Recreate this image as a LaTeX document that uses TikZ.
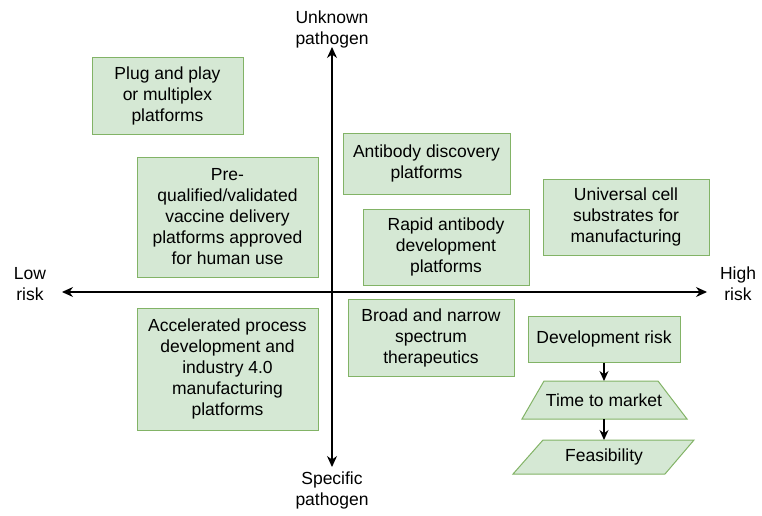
\documentclass[tikz,border=0pt]{standalone}
\usepackage{fontspec}
\setmainfont{Liberation Sans}
\usetikzlibrary{arrows.meta}
\definecolor{boxfill}{HTML}{D5E8D4}
\definecolor{boxdraw}{HTML}{82B366}
\tikzset{
  gbox/.style={draw=boxdraw, fill=boxfill, line width=1pt, rectangle, inner sep=0pt, align=center,
    font=\fontsize{17.5}{21}\selectfont},
  lbl/.style={align=center, inner sep=0pt, font=\fontsize{17.5}{21}\selectfont},
  gshape/.style={draw=boxdraw, fill=boxfill, line width=1pt},
  axis/.style={line width=1.2pt, -{Stealth[length=11pt,width=10pt]}},
  flow/.style={line width=1.2pt, -{Stealth[length=10pt,width=9pt]}},
}
\begin{document}
\begin{tikzpicture}[x=1pt,y=-1pt]
\useasboundingbox (0,0) rectangle (762,516);
% axes
\coordinate (o) at (332,292);
\coordinate (top) at (332,47);
\coordinate (bot) at (332,467);
\coordinate (lft) at (62,292);
\coordinate (rgt) at (707,292);
\draw[axis] (o) -- (top);
\draw[axis] (o) -- (bot);
\draw[axis] (o) -- (lft);
\draw[axis] (o) -- (rgt);
\node[lbl] (unk) at (332,29) {Unknown\\pathogen};
\node[lbl] (spe) at (332,490) {Specific\\pathogen};
\node[lbl] (low) at (30,284) {Low\\risk};
\node[lbl] (high) at (738,284) {High\\risk};
% boxes
\node[gbox, minimum width=151, minimum height=76] (plug) at (167.5,96) {Plug and play\\or multiplex\\platforms};
\node[gbox, minimum width=181, minimum height=120] (preq) at (227.5,217) {Pre-\\qualified/validated\\vaccine delivery\\platforms approved\\for human use};
\node[gbox, minimum width=167, minimum height=61] (abd) at (426.5,163.5) {Antibody discovery\\platforms};
\node[gbox, minimum width=166, minimum height=76] (rapid) at (446,247) {Rapid antibody\\development\\platforms};
\node[gbox, minimum width=166, minimum height=76] (univ) at (626,217) {Universal cell\\substrates for\\manufacturing};
\node[gbox, minimum width=181, minimum height=122] (accel) at (227.5,369) {Accelerated process\\development and\\industry 4.0\\manufacturing\\platforms};
\node[gbox, minimum width=166, minimum height=77] (broad) at (431,337.5) {Broad and narrow\\spectrum\\therapeutics};
\node[gbox, minimum width=152, minimum height=46] (dev) at (604,339) {Development risk};
% trapezoid and parallelogram
\draw[gshape] (544,381) -- (658,381) -- (687,419) -- (522,419) -- cycle;
\node[lbl] (ttm) at (604,400) {Time to market};
\draw[gshape] (543,440) -- (694,440) -- (665,474) -- (513,474) -- cycle;
\node[lbl] (feas) at (604,457) {Feasibility};
\coordinate (ttmtop) at (604,381);
\coordinate (ttmbot) at (604,419);
\coordinate (feastop) at (604,440);
\draw[flow] (dev.south) -- (ttmtop);
\draw[flow] (ttmbot) -- (feastop);
\end{tikzpicture}
\end{document}
